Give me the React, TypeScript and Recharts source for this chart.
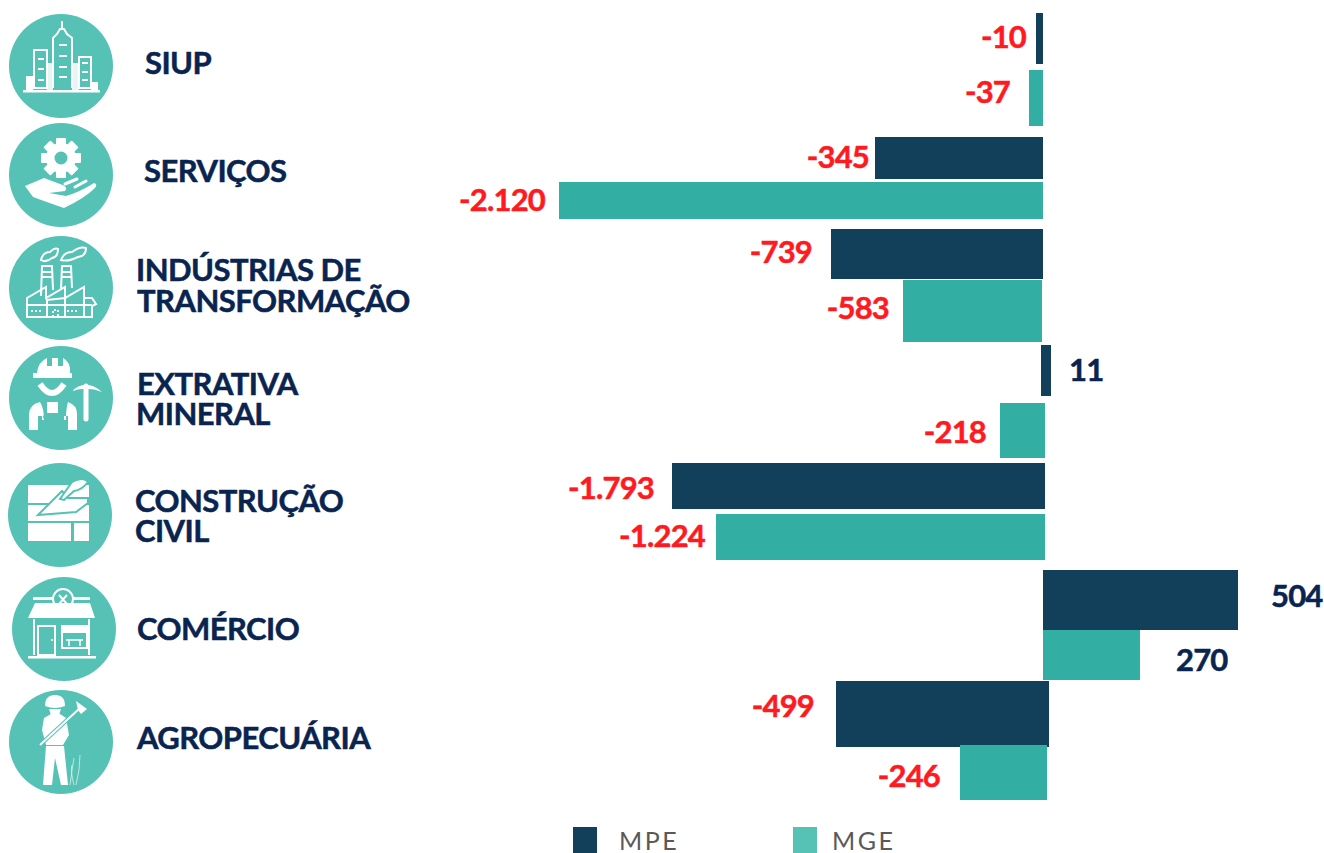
import React from "react";
import { BarChart, Bar, XAxis, YAxis, LabelList } from "recharts";

// ---------- data ----------
const sectors = ["SIUP", "SERVIÇOS", "INDÚSTRIAS DE TRANSFORMAÇÃO", "EXTRATIVA MINERAL", "CONSTRUÇÃO CIVIL", "COMÉRCIO", "AGROPECUÁRIA"];
const mpeLabels = ["-10", "-345", "-739", "11", "-1.793", "504", "-499"];
const mgeLabels = ["-37", "-2.120", "-583", "-218", "-1.224", "270", "-246"];
// The printed numbers and the drawn bar lengths disagree in the reference,
// so the drawn extents (start, end) are read from the picture separately.
const mpeStart = [-7, -168, -212, -2, -371, 0, -207];
const mpeEnd = [0, 0, 0, 8, 2, 195, 6];
const mgeStart = [-14, -484, -140, -43, -327, 0, -83];
const mgeEnd = [0, 0, -1, 2, 2, 97, 4];

// ---------- layout ----------
const ZERO = 1043;
const WIDTH = 1324;
const PAD = 6;
const rowTop = [13, 137, 229, 345, 463, 570, 681];
const mpeSize = [51, 42, 50, 51, 46, 60, 66];
const mgeSize = [56, 37, 62, 55, 46, 50, 55];
const rowGap = [6, 3, 1, 7, 5, 0, -2];
const mpeLabelGap = [10, 6, 19, 18, 18, 33, 22];
const mgeLabelGap = [19, 14, 14, 14, 11, 36, 20];
const mpeLabelDy = [-2, -1, -2, -1, 2, -4, -8];
const mgeLabelDy = [-6, -1, -3, 1, -1, 5, 3];
const sectorLines = [["SIUP"], ["SERVIÇOS"], ["INDÚSTRIAS DE", "TRANSFORMAÇÃO"], ["EXTRATIVA", "MINERAL"], ["CONSTRUÇÃO", "CIVIL"], ["COMÉRCIO"], ["AGROPECUÁRIA"]];
const textX = [[145], [144], [136, 137], [137, 136], [135, 135], [137], [137]];
const textY = [[63], [171], [270, 301], [384, 414], [501, 531], [629], [738]];
const circles = [[61, 66], [61, 175], [61, 288], [61, 398], [60, 515], [64, 629], [61, 742]];

const MPE_COLOR = "#12405A";
const MGE_COLOR = "#33AEA3";
const MGE_LEGEND = "#55C2B5";
const NAVY = "#0A2450";
const RED = "#FF1A1F";
const FONT = "Lato, sans-serif";

const rows = sectors.map((sector, i) => ({
  sector,
  mpe: [mpeStart[i], mpeEnd[i]],
  mge: [mgeStart[i], mgeEnd[i]],
}));

function rowLabel(text: string, gap: number, dy: number) {
  return (p: any) => {
    const positive = !text.startsWith("-");
    const x = positive ? p.x + p.width + gap : p.x - gap;
    return (
      <text
        x={x}
        y={p.y + p.height / 2 + dy}
        dy="0.36em"
        textAnchor={positive ? "start" : "end"}
        fontFamily={FONT}
        fontWeight={700}
        fontSize={31}
        letterSpacing={-0.8}
        fill={positive ? NAVY : RED}
        stroke={positive ? NAVY : RED}
        strokeWidth={0.5}
      >
        {text}
      </text>
    );
  };
}

const W = "#FFFFFF";
const T = MGE_LEGEND;

function IconCity() {
  return (
    <g>
      <g fill="none" stroke={W} strokeWidth={2}>
        <path d="M53 88V38L57 34L60 29H64L67 34L72 38V88" />
        <rect x={34} y={50} width={13} height={38} />
        <rect x={79} y={57} width={12} height={31} />
      </g>
      <path d="M62 21V30" stroke={W} strokeWidth={2} />
      <rect x={23} y={90} width={77} height={2.5} fill={W} />
      <rect x={26} y={76} width={7} height={14} fill={W} />
      <rect x={91} y={82} width={7} height={8} fill={W} />
      <rect x={47} y={63} width={6} height={27} fill={W} opacity={0.85} />
      <rect x={72} y={63} width={7} height={27} fill={W} opacity={0.85} />
      <g fill={W}>
        {[44, 55, 66, 76].map((y) => <rect key={y} x={59} y={y} width={8} height={2} />)}
        {[58, 68, 79].map((y) => <rect key={y} x={38} y={y} width={6} height={2} />)}
        {[62, 71, 79].map((y) => <rect key={y} x={82} y={y} width={6} height={2} />)}
      </g>
    </g>
  );
}

function IconServices() {
  const teeth = [0, 45, 90, 135];
  return (
    <g>
      <circle cx={61} cy={158} r={15} fill={W} />
      {teeth.map((a) => <rect key={a} x={56} y={138} width={10} height={40} rx={1} fill={W} transform={`rotate(${a} 61 158)`} />)}
      <circle cx={61} cy={158} r={6.5} fill={T} />
      <path d="M25 186L44 178L60 184Q69 187 65 191L49 193L66 196Q80 192 94 183Q98 184 95 188Q85 198 64 208Q52 204 33 197Z" fill={W} />
      <path d="M65 184L77 179M75 187L86 181" stroke={W} strokeWidth={3} strokeLinecap="round" />
    </g>
  );
}

function IconFactory() {
  return (
    <g fill="none" stroke={W} strokeWidth={2}>
      <path d="M27 317V298L46 287V298L65 287V298L84 287V298H92L96 304L92 306V317Z" />
      <path d="M47 317V300L65 298V317M27 305H92M84 298V317" />
      <path d="M41 296L42 266H52L53 290M61 290L62 266H71L72 288" />
      <path d="M42 272H52M42 277H52M62 272H71M62 277H71" />
      <path d="M41 260Q43 252 50 252Q55 247 58 249Q58 257 52 258Q46 263 41 260Z" />
      <path d="M61 260Q64 252 72 252Q80 246 86 248Q86 256 78 257Q68 262 61 260Z" />
      <path d="M31 311H41M67 311H78M53 317V310H58V317" strokeDasharray="2 2" />
    </g>
  );
}

function IconWorker() {
  return (
    <g>
      <path d="M37 373Q38 362 47 358V366H52V358H58V366H63V358Q71 362 70 373H72V378H33V373Z" fill={W} />
      <path d="M40 384Q52 402 64 384" fill="none" stroke={W} strokeWidth={6} />
      <path d="M29 430V414Q30 404 40 402Q44 408 44 420H66Q66 408 68 402Q77 405 77 414V430H68V416H64V420H42V416H38V430Z" fill={W} />
      <rect x={47} y={402} width={11} height={11} fill={W} />
      <circle cx={45} cy={417} r={2} fill={T} />
      <circle cx={60} cy={417} r={2} fill={T} />
      <path d="M72 391Q86 378 102 392Q88 386 72 391Z" fill={W} />
      <path d="M86 386V419" stroke={W} strokeWidth={5} strokeLinecap="round" />
    </g>
  );
}

function IconBricks() {
  return (
    <g>
      <g fill={W}>
        <rect x={28} y={485} width={61} height={18} />
        <rect x={28} y={505} width={61} height={16} />
        <rect x={28} y={523} width={43} height={18} />
        <rect x={74} y={523} width={15} height={18} />
      </g>
      <path d="M38 515L62 491L68 498L88 498V503L76 512Z" fill={W} stroke={T} strokeWidth={2} />
      <path d="M60 499L72 482Q84 476 88 482Q82 490 74 491L64 500Z" fill={W} stroke={T} strokeWidth={2} />
    </g>
  );
}

function IconShop() {
  return (
    <g>
      <rect x={33} y={597} width={57} height={3} fill={W} />
      <circle cx={63} cy={599} r={10} fill={T} stroke={W} strokeWidth={2} />
      <path d="M59 595L67 604M67 595L59 604" stroke={W} strokeWidth={2} />
      <path d="M35 603H90L95 618H28Z" fill={W} />
      <g fill="none" stroke={W} strokeWidth={2}>
        <path d="M34 619V655M89 619V655" />
        <rect x={38} y={626} width={17} height={29} />
        <rect x={62} y={626} width={25} height={22} />
      </g>
      <rect x={63} y={627} width={23} height={6} fill={W} />
      <path d="M66 640H83M69 640V646M80 640V646" fill="none" stroke={W} strokeWidth={1.5} />
      <circle cx={52} cy={640} r={1} fill={W} />
      <rect x={28} y={656} width={68} height={2.5} fill={W} />
    </g>
  );
}

function IconFarmer() {
  return (
    <g>
      <path d="M45 706Q45 695 55 695Q65 695 65 706Q55 710 45 706Z" fill={W} />
      <path d="M49 709H61L59 715H51Z" fill={W} />
      <path d="M44 718L51 714H60L66 718L69 735L63 745H46L42 730Z" fill={W} />
      <path d="M46 746H64L68 785H61L55 758L52 785H43Z" fill={W} />
      <path d="M40 745L80 708" stroke={T} strokeWidth={4} />
      <path d="M40 745L80 708" stroke={W} strokeWidth={2} />
      <path d="M76 701L87 709L81 714L78 710Z" fill={W} />
      <path d="M70 785Q72 770 74 758M76 785Q80 770 80 755M74 785Q70 770 72 765" fill="none" stroke={W} strokeWidth={1} opacity={0.6} />
    </g>
  );
}

const icons = [IconCity, IconServices, IconFactory, IconWorker, IconBricks, IconShop, IconFarmer];

export default function App() {
  return (
    <div style={{ position: "absolute", left: 0, top: 0, width: WIDTH, height: 853, overflow: "hidden", background: "#fff" }}>
      <svg width={WIDTH} height={853} style={{ position: "absolute", left: 0, top: 0 }}>
        {sectors.map((s, i) => {
          const Icon = icons[i];
          return (
            <g key={s}>
              <circle cx={circles[i][0]} cy={circles[i][1]} r={52} fill={T} />
              <Icon />
              {sectorLines[i].map((line, j) => (
                <text key={line} x={textX[i][j]} y={textY[i][j]} dy="0.36em" fontFamily={FONT} fontWeight={700} fontSize={31} letterSpacing={-0.55} fill={NAVY} stroke={NAVY} strokeWidth={0.5}>
                  {line}
                </text>
              ))}
            </g>
          );
        })}
        <rect x={573} y={827} width={24} height={26} fill={MPE_COLOR} />
        <text x={619} y={850} fontFamily={FONT} fontSize={25} letterSpacing={2.5} fill="#595959">MPE</text>
        <rect x={793} y={827} width={24} height={26} fill={MGE_LEGEND} />
        <text x={832} y={850} fontFamily={FONT} fontSize={25} letterSpacing={2.5} fill="#595959">MGE</text>
      </svg>
      {rows.map((row, i) => {
        const h = mpeSize[i] + mgeSize[i] + rowGap[i];
        return (
          <div key={row.sector} style={{ position: "absolute", left: 0, top: rowTop[i] - PAD }}>
            <BarChart
              width={WIDTH}
              height={h + 2 * PAD}
              data={[row]}
              layout="vertical"
              margin={{ top: 0, right: 0, bottom: 0, left: 0 }}
              barGap={rowGap[i]}
              barCategoryGap={0}
              style={{ overflow: "visible" }}
            >
              <XAxis type="number" hide domain={[-ZERO, WIDTH - ZERO]} />
              <YAxis type="category" dataKey="sector" hide />
              <Bar dataKey="mpe" name="MPE" fill={MPE_COLOR} barSize={mpeSize[i]} isAnimationActive={false}>
                <LabelList dataKey="sector" content={rowLabel(mpeLabels[i], mpeLabelGap[i], mpeLabelDy[i])} />
              </Bar>
              <Bar dataKey="mge" name="MGE" fill={MGE_COLOR} barSize={mgeSize[i]} isAnimationActive={false}>
                <LabelList dataKey="sector" content={rowLabel(mgeLabels[i], mgeLabelGap[i], mgeLabelDy[i])} />
              </Bar>
            </BarChart>
          </div>
        );
      })}
    </div>
  );
}
